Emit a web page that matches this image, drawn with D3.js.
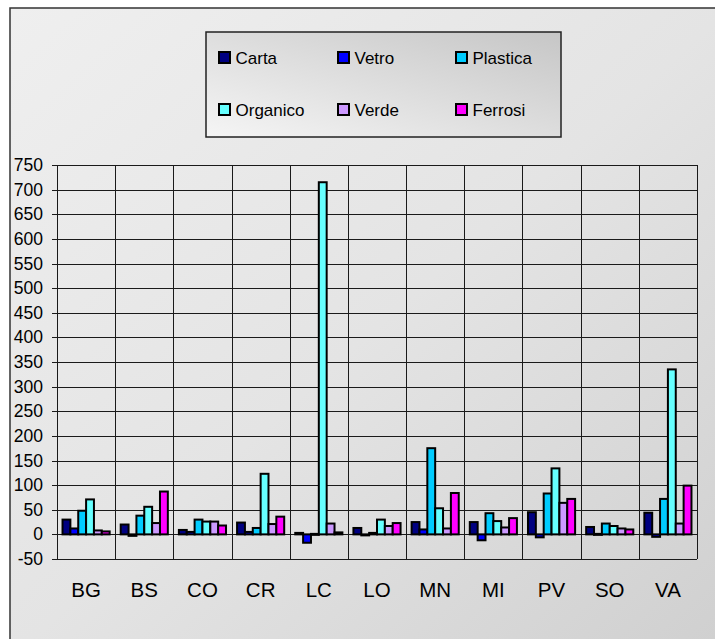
<!DOCTYPE html>
<html><head><meta charset="utf-8">
<script src="https://cdn.jsdelivr.net/npm/d3@7"></script>
<style>
html,body{margin:0;padding:0;background:#fff;}
svg{display:block;font-family:"Liberation Sans",Arial,sans-serif;}
</style></head>
<body>
<svg id="chart" width="715" height="639"></svg>
<script>
const categories = ["BG","BS","CO","CR","LC","LO","MN","MI","PV","SO","VA"];
const seriesNames = ["Carta","Vetro","Plastica","Organico","Verde","Ferrosi"];
const carta    = [30, 20,  9, 24,   3, 13,  25,  25,  45, 15,  44];
const vetro    = [12, -3,  5,  5, -17, -1,  10, -12,  -6,  1,  -5];
const plastica = [48, 38, 30, 13,   1,  3, 175,  43,  83, 22,  72];
const organico = [71, 56, 26,123, 715, 30,  53,  27, 134, 17, 335];
const verde    = [ 8, 23, 26, 21,  22, 17,  12,  14,  64, 12,  22];
const ferrosi  = [ 6, 87, 18, 36,   4, 23,  84,  33,  72, 10,  99];
const yTicks = [-50,0,50,100,150,200,250,300,350,400,450,500,550,600,650,700,750];
const colors = ["#000080","#0000ff","#00ccff","#66ffff","#cc99ff","#ff00ff"];

(function(){
const FONT = "'Liberation Sans', Arial, sans-serif";
const seriesData = [carta, vetro, plastica, organico, verde, ferrosi];

const svg = d3.select("#chart");
const defs = svg.append("defs");
const bg = defs.append("linearGradient").attr("id","bgGrad")
  .attr("x1","0").attr("y1","0").attr("x2","1").attr("y2","1");
bg.append("stop").attr("offset","0").attr("stop-color","#efefef");
bg.append("stop").attr("offset","0.5").attr("stop-color","#e4e4e4");
bg.append("stop").attr("offset","1").attr("stop-color","#cfcfcf");
const lg = defs.append("linearGradient").attr("id","lgGrad")
  .attr("x1","1").attr("y1","0").attr("x2","0").attr("y2","1");
lg.append("stop").attr("offset","0").attr("stop-color","#c6c6c6");
lg.append("stop").attr("offset","1").attr("stop-color","#f5f5f5");

// outer chart area
svg.append("rect").attr("x",10).attr("y",8).attr("width",720).attr("height",650)
  .attr("fill","url(#bgGrad)").attr("stroke","#333").attr("stroke-width",1.5);

const pL = 57, pR = 697, pT = 165, pB = 559;
const x = d3.scaleBand().domain(categories).range([pL, pR]).paddingInner(0).paddingOuter(0);
const gap = x.bandwidth() * 0.19;
const xs = d3.scaleBand().domain(seriesNames).range([gap/2, x.bandwidth() - gap/2]).padding(0);
const y = d3.scaleLinear().domain([-50, 750]).range([pB, pT]);

// horizontal gridlines
const yAxis = d3.axisLeft(y).tickValues(yTicks).tickSize(-(pR-pL)).tickFormat("");
const gy = svg.append("g").attr("transform",`translate(${pL},0)`).call(yAxis);
gy.select(".domain").remove();
gy.selectAll(".tick line").attr("stroke","#1a1a1a").attr("stroke-width",1).attr("shape-rendering","crispEdges");
// tick marks + labels
const yAxis2 = d3.axisLeft(y).tickValues(yTicks).tickSize(5).tickPadding(9).tickFormat(d=>d);
const gy2 = svg.append("g").attr("transform",`translate(${pL},0)`).call(yAxis2);
gy2.select(".domain").attr("stroke","#1a1a1a").attr("shape-rendering","crispEdges");
gy2.selectAll(".tick line").attr("stroke","#1a1a1a").attr("shape-rendering","crispEdges");
gy2.selectAll(".tick text").attr("font-size",17.5).attr("fill","#000")
  .attr("font-family",FONT);

// vertical gridlines at category boundaries
const bounds = categories.map(c => x(c)).concat([x(categories[categories.length-1]) + x.bandwidth()]);
svg.append("g").selectAll("line").data(bounds).join("line")
  .attr("x1",d=>Math.round(d)+0.5).attr("x2",d=>Math.round(d)+0.5)
  .attr("y1",pT).attr("y2",pB)
  .attr("stroke","#1a1a1a").attr("stroke-width",1);

// bars
const bars = svg.append("g");
seriesData.forEach((vals, si) => {
  bars.append("g").selectAll("rect").data(vals).join("rect")
    .attr("x",(d,i)=>x(categories[i]) + xs(seriesNames[si]))
    .attr("width",xs.bandwidth())
    .attr("y",d=>y(Math.max(0,d)))
    .attr("height",d=>Math.max(1, Math.abs(y(d)-y(0))))
    .attr("fill",colors[si])
    .attr("stroke","#000").attr("stroke-width",2);
});

// category labels
svg.append("g").selectAll("text").data(categories).join("text")
  .attr("x",d=>x(d)+x.bandwidth()/2).attr("y",597)
  .attr("text-anchor","middle").attr("font-size",20.5).attr("fill","#000")
  .attr("font-family",FONT)
  .text(d=>d);

// legend
const L = {x:206, y:32, w:355, h:105};
svg.append("rect").attr("x",L.x).attr("y",L.y).attr("width",L.w).attr("height",L.h)
  .attr("fill","url(#lgGrad)").attr("stroke","#222").attr("stroke-width",1.5);
const colX = [218, 337, 455];
const rowY = [51, 103];
const leg = svg.append("g").selectAll("g").data(seriesNames).join("g")
  .attr("transform",(d,i)=>`translate(${colX[i%3]},${rowY[Math.floor(i/3)]})`);
leg.append("rect").attr("x",1).attr("y",1).attr("width",11).attr("height",11)
  .attr("fill",(d,i)=>colors[i]).attr("stroke","#000").attr("stroke-width",2);
leg.append("text").attr("x",17.5).attr("y",13).attr("font-size",17).attr("fill","#000")
  .attr("font-family",FONT)
  .text(d=>d);
})();
</script>
</body></html>
